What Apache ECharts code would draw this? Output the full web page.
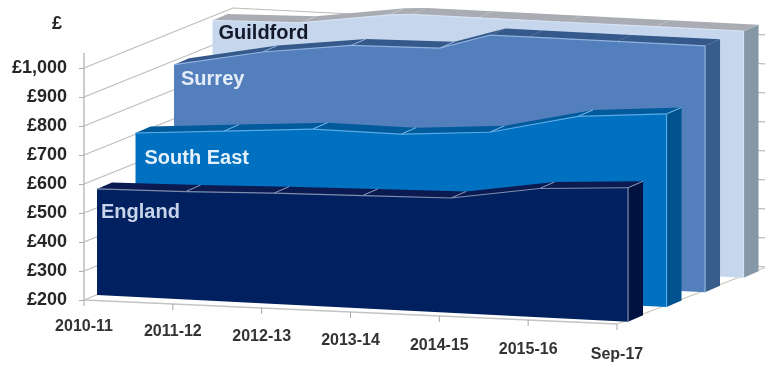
<!DOCTYPE html>
<html>
<head>
<meta charset="utf-8">
<style>html,body{margin:0;padding:0;background:#fff}#chart{width:765px;height:365px}</style>
<script src="https://cdn.jsdelivr.net/npm/echarts@6/dist/echarts.min.js"></script>
</head>
<body>
<div id="chart"></div>
<script>
// Tick labels
const categories = ['2010-11', '2011-12', '2012-13', '2013-14', '2014-15', '2015-16', 'Sep-17'];
const valueTicks = [200, 300, 400, 500, 600, 700, 800, 900, 1000];

// Series values (£); anything above the axis maximum is cut off by the plot roof
const guildford = [995, 1002, 1045, 1065, 1080, 1150, 1170];
const surrey = [893, 952, 990, 996, 1090, 1130, 1150];
const southEast = [708, 730, 752, 750, 772, 842, 866];
const england = [566, 572, 582, 589, 596, 644, 662];

const AXIS_MIN = 200;
const AXIS_MAX = 1050;
const FONT = '"Liberation Sans", Arial, sans-serif';

// Oblique projection used to fake the 3D box
const FLOOR_SHEAR = 4;             // floor falls to the right
const LAYER_SHEAR = 4.45;          // series planes fall a little faster
const LAYER_SQUEEZE = 0.33;        // and are slightly narrower per category
const LAYER_STEP = [38.5, -14.7];  // one series further back
const LAYER_START = 0.338;         // first series' gap from the front of the box
const THICKNESS = [15, -6.5];      // depth of one series
const WALL = [149, -60];           // back wall offset
const WALL_SHEAR = 4.5;

// Back-to-front drawing order
const layers = [
  { name: 'Guildford', values: guildford, depth: 3, front: '#c6d7ed', side: '#8697a6', top: '#a9acb2', edge: '#d5e1f2', sep: '#c2c6cc', text: '#14182a', labelAt: [6, 13] },
  { name: 'Surrey', values: surrey, depth: 2, front: '#5380bc', side: '#385d8a', top: '#34598a', edge: '#8fb0de', sep: '#8fb0de', text: '#e4edf8', labelAt: [7, 15] },
  { name: 'South East', values: southEast, depth: 1, front: '#0070c0', side: '#00528f', top: '#005a9c', edge: '#5aaae6', sep: '#7dbcea', text: '#e4f0fa', labelAt: [9, 25] },
  { name: 'England', values: england, depth: 0, front: '#002060', side: '#00123f', top: '#0b1b52', edge: '#7f8dac', sep: '#8f9bb6', text: '#c8d4ea', labelAt: [4, 24] }
];

// Insert the crossing points where a run of values rises above the axis maximum
function clampToRoof(values) {
  const out = [];
  values.forEach(function (v, i) {
    if (i > 0) {
      const p = values[i - 1];
      if ((p - AXIS_MAX) * (v - AXIS_MAX) < 0) {
        out.push([i - 1 + (AXIS_MAX - p) / (v - p), AXIS_MAX]);
      }
    }
    out.push([i, Math.min(v, AXIS_MAX)]);
  });
  return out;
}

function makeProjector(api, shear, squeeze) {
  // Maps (category position, value) on to a plane offset into the box
  return function (pos, value, off) {
    const lo = Math.floor(pos);
    const hi = Math.min(lo + 1, categories.length - 1);
    const a = api.coord([lo, value]);
    const b = api.coord([hi, value]);
    const t = pos - lo;
    return [
      a[0] + (b[0] - a[0]) * t - pos * squeeze + off[0],
      a[1] + pos * shear + off[1]
    ];
  };
}

function polygon(points, fill) {
  return { type: 'polygon', shape: { points: points }, style: { fill: fill } };
}
function line(a, b, stroke, width) {
  return {
    type: 'line',
    shape: { x1: a[0], y1: a[1], x2: b[0], y2: b[1] },
    style: { stroke: stroke, lineWidth: width === undefined ? 1 : width }
  };
}

// Walls, floor outline and category axis of the box
function renderFrame(params, api) {
  const at = makeProjector(api, FLOOR_SHEAR, 0);
  const zero = [0, 0];
  const last = categories.length - 1;
  const children = [];
  valueTicks.forEach(function (v) {
    const a = at(0, v, zero);
    const b = [a[0] + WALL[0], a[1] + WALL[1]];
    const c = [b[0] + api.size([last, 0])[0] * last, b[1] + last * WALL_SHEAR];
    children.push(line(a, b, '#bdbdbd', 1.2), line(b, c, '#bdbdbd', 1.2));
  });
  const o = at(0, AXIS_MIN, zero);
  const e = at(last, AXIS_MIN, zero);
  children.push(line(o, e, '#c4c4c4', 1.5));
  children.push(line(e, [e[0] + WALL[0], e[1] + WALL[1] + last * (WALL_SHEAR - FLOOR_SHEAR)], '#cfc9bd', 1.2));
  categories.forEach(function (name, i) {
    const p = at(i, AXIS_MIN, zero);
    children.push(line(p, [p[0], p[1] + 6], '#a8a8a8', 1));
    children.push({
      type: 'text',
      style: {
        x: p[0], y: p[1] + 27 + i * 0.6, text: name, fill: '#333333',
        font: 'bold 16px ' + FONT, align: 'center', verticalAlign: 'middle'
      }
    });
  });
  return { type: 'group', children: children };
}

// One series: right side, top strips, front face, highlights and name
function renderLayer(layer, api) {
  const at = makeProjector(api, LAYER_SHEAR, LAYER_SQUEEZE);
  const z = LAYER_START + layer.depth;
  const f = [LAYER_STEP[0] * z, LAYER_STEP[1] * z];
  const k = [f[0] + THICKNESS[0], f[1] + THICKNESS[1]];
  const run = clampToRoof(layer.values);
  const last = categories.length - 1;
  const children = [];

  // Right side
  children.push(polygon([
    at(last, run[run.length - 1][1], f), at(last, run[run.length - 1][1], k),
    at(last, AXIS_MIN, k), at(last, AXIS_MIN, f)
  ], layer.side));

  // Top strips
  for (let n = 0; n < run.length - 1; n++) {
    children.push(polygon([
      at(run[n][0], run[n][1], f), at(run[n + 1][0], run[n + 1][1], f),
      at(run[n + 1][0], run[n + 1][1], k), at(run[n][0], run[n][1], k)
    ], layer.top));
  }
  run.forEach(function (p) {
    if (Number.isInteger(p[0]) && p[1] < AXIS_MAX && p[0] > 0) {
      children.push(line(at(p[0], p[1], f), at(p[0], p[1], k), layer.sep, 1));
    }
  });

  // Front face
  const outline = run.map(function (p) { return at(p[0], p[1], f); });
  children.push(polygon(outline.concat([at(last, AXIS_MIN, f), at(0, AXIS_MIN, f)]), layer.front));

  // Highlights along the top and the front right corner
  for (let n = 0; n < outline.length - 1; n++) {
    children.push(line(outline[n], outline[n + 1], layer.edge, 1.2));
  }
  children.push(line(outline[outline.length - 1], at(last, AXIS_MIN, f), layer.edge, 1.2));

  const topLeft = outline[0];
  children.push({
    type: 'text',
    style: {
      x: topLeft[0] + layer.labelAt[0], y: topLeft[1] + layer.labelAt[1],
      text: layer.name, fill: layer.text,
      font: 'bold 20px ' + FONT, align: 'left', verticalAlign: 'middle'
    }
  });
  return { type: 'group', children: children };
}

const chart = echarts.init(document.getElementById('chart'), null, { renderer: 'canvas' });

const series = [{
  type: 'custom',
  coordinateSystem: 'cartesian2d',
  clip: false,
  silent: true,
  z: 1,
  data: [[0, AXIS_MIN]],
  renderItem: renderFrame
}].concat(layers.map(function (layer, idx) {
  return {
    type: 'custom',
    name: layer.name,
    coordinateSystem: 'cartesian2d',
    clip: false,
    silent: true,
    z: 2 + idx,
    data: layer.values.map(function (v, i) { return [i, v]; }),
    renderItem: function (params, api) {
      return params.dataIndex === 0 ? renderLayer(layer, api) : null;
    }
  };
}));

chart.setOption({
  animation: false,
  backgroundColor: '#ffffff',
  grid: { left: 84, top: 53.5, width: 533, height: 246.5 },
  xAxis: {
    type: 'category',
    data: categories,
    boundaryGap: false,
    show: false
  },
  yAxis: {
    type: 'value',
    min: AXIS_MIN,
    max: AXIS_MAX,
    splitLine: { show: false },
    axisLine: { show: true, lineStyle: { color: '#bdbdbd', width: 1.5 } },
    axisTick: { show: true, length: 5, lineStyle: { color: '#b0b0b0' }, customValues: valueTicks },
    axisLabel: {
      customValues: valueTicks,
      margin: 17,
      color: '#262626',
      fontFamily: FONT,
      fontWeight: 'bold',
      fontSize: 18,
      formatter: function (v) { return '£' + v.toLocaleString('en-GB'); }
    }
  },
  graphic: [{
    type: 'text',
    left: 52,
    top: 15,
    style: { text: '£', fill: '#262626', font: 'bold 18px ' + FONT }
  }],
  series: series
});
</script>
</body>
</html>
